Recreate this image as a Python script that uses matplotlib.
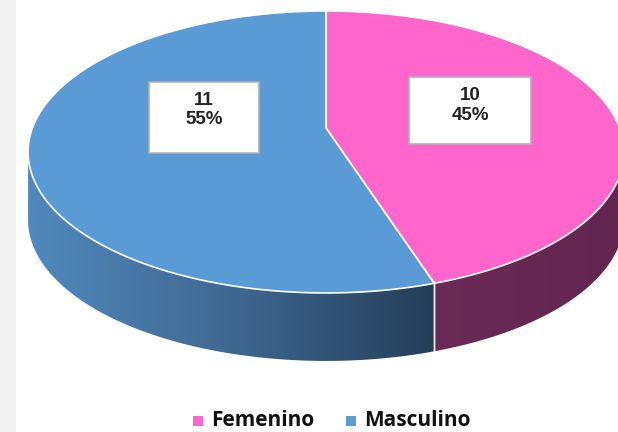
import numpy as np
import matplotlib
matplotlib.use("Agg")
import matplotlib.pyplot as plt
from matplotlib.patches import Polygon, Rectangle
from matplotlib.colors import LinearSegmentedColormap

# ---------------- data ----------------
categories = ["Femenino", "Masculino"]
counts = [10, 11]
percents = [45, 55]

# ---------------- style ----------------
top_colors = ["#ff66cc", "#5b9bd5"]
side_colors = [["#6a2b56", "#632650"], ["#5189bd", "#3f6891", "#243e59"]]

W, H = 618, 432
fig = plt.figure(figsize=(6.18, 4.32), dpi=100)
ax = fig.add_axes([0, 0, 1, 1])
ax.set_xlim(0, W)
ax.set_ylim(H, 0)
ax.axis("off")

# left grey strip of the slide
ax.add_patch(Rectangle((0, 0), 16, H, facecolor="#f3f3f3", edgecolor="none", zorder=0))

# perspective pie geometry (pixel layout)
cx, cy, rx, ry, k, depth = 326.0, 128.0, 293.6, 136.9, 0.17, 68.0


def proj(theta, z=0.0, r=1.0):
    u = r * np.sin(theta)
    v = r * np.cos(theta)
    s = 1.0 / (1.0 + k * v)
    return cx + rx * u * s, cy - ry * v * s + depth * z


total = sum(percents)
bounds = np.concatenate([[0], np.cumsum(percents)]) / total * 2 * np.pi
vis_lo, vis_hi = np.arccos(-k), 2 * np.pi - np.arccos(-k)

# ---- side walls ----
for i in range(len(categories)):
    a, b = bounds[i], bounds[i + 1]
    lo, hi = max(a, vis_lo), min(b, vis_hi)
    if hi <= lo:
        continue
    th = np.linspace(lo, hi, 200)
    xt, yt = proj(th, 0)
    xb, yb = proj(th[::-1], 1)
    pts = np.column_stack([np.concatenate([xt, xb]), np.concatenate([yt, yb])])
    poly = Polygon(pts, closed=True, facecolor="none", edgecolor="none")
    ax.add_patch(poly)
    x0, x1 = pts[:, 0].min(), pts[:, 0].max()
    y0, y1 = pts[:, 1].min(), pts[:, 1].max()
    cmap = LinearSegmentedColormap.from_list("side%d" % i, side_colors[i])
    grad = np.linspace(0, 1, 256).reshape(1, -1)
    im = ax.imshow(grad, cmap=cmap, extent=(x0, x1, y1, y0), aspect="auto",
                   interpolation="bicubic", zorder=1)
    im.set_clip_path(poly)
    # white seam on the side at slice boundaries
    for t in (a, b):
        if vis_lo < t < vis_hi:
            xs, ys = proj(np.array([t, t]), np.array([0, 1]))
            ax.plot(xs, ys, color="#f4f4f4", lw=1.0, zorder=2)

# ---- top surface ----
for i in range(len(categories)):
    a, b = bounds[i], bounds[i + 1]
    th = np.linspace(a, b, 300)
    xt, yt = proj(th, 0)
    pts = np.column_stack([np.concatenate([[cx], xt]), np.concatenate([[cy], yt])])
    ax.add_patch(Polygon(pts, closed=True, facecolor=top_colors[i],
                         edgecolor="white", lw=1.2, joinstyle="miter", zorder=3))

# ---- data labels ----
label_boxes = [(409, 77, 122, 67), (148.6, 82, 110.5, 70.5)]
label_frac = [0.425, 0.40]
for i in range(len(categories)):
    bx, by, bw, bh = label_boxes[i]
    ax.add_patch(Rectangle((bx, by), bw, bh, facecolor="white", edgecolor="#b0b0b0",
                           lw=1.2, zorder=4))
    ax.text(bx + bw / 2, by + bh * label_frac[i], "%d\n%d%%" % (counts[i], percents[i]),
            ha="center", va="center", fontsize=13.5, fontweight="bold",
            family="Liberation Sans", color="#222222", linespacing=1.2, zorder=5)

# ---- legend ----
leg_x = [193, 346]
for i in range(len(categories)):
    ax.add_patch(Rectangle((leg_x[i], 416), 10, 10, facecolor=top_colors[i],
                           edgecolor="none", zorder=4))
    ax.text(leg_x[i] + 18, 431.5, categories[i], ha="left", va="bottom",
            fontsize=15, fontweight="bold", family="Open Sans", color="#111111", zorder=5)

fig.savefig("out.png", dpi=100)
